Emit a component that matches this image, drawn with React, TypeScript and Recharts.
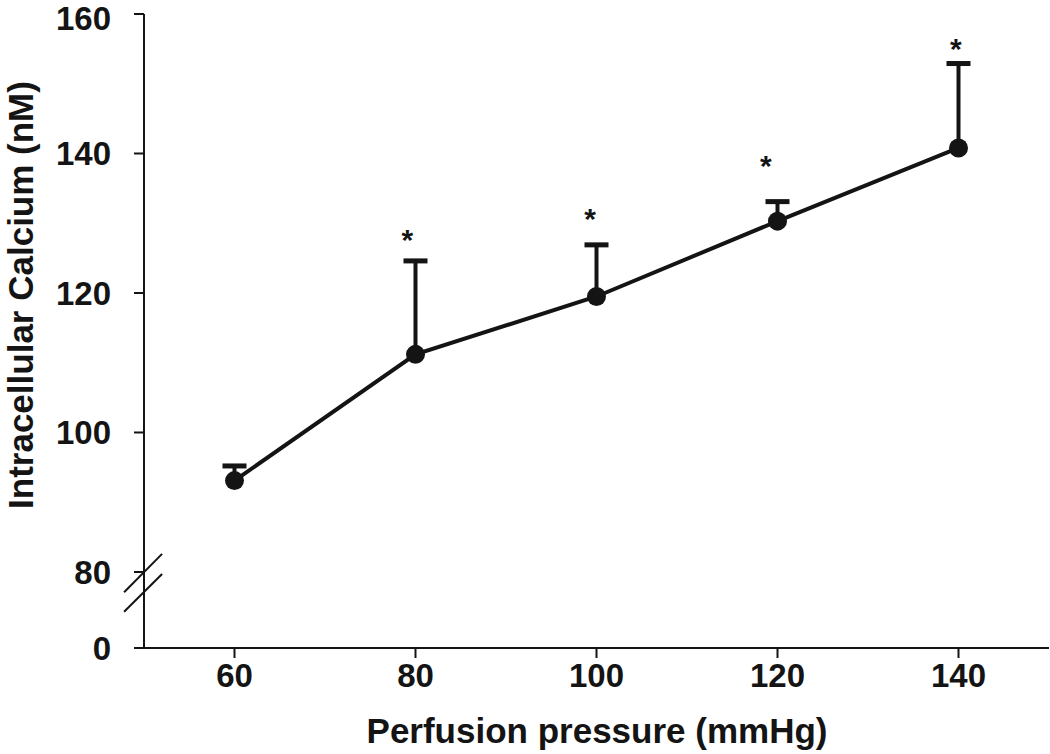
import {
  ComposedChart,
  Line,
  Scatter,
  ErrorBar,
  XAxis,
  YAxis,
  ReferenceLine,
} from "recharts";

// perfusion pressure (mmHg) and intracellular calcium (nM), mean + SEM
const pressures = [60, 80, 100, 120, 140];
const calciumMean = [93.1, 111.2, 119.5, 130.3, 140.8];
const calciumSem = [2.1, 13.4, 7.4, 2.8, 12.1];

// significance stars (hand placed in the original figure)
const starPressure = [79.1, 99.3, 118.7, 139.7];
const starLevel = [128.5, 131.4, 139.1, 155.9];

const xTicks = [60, 80, 100, 120, 140];
const yTicks = [80, 100, 120, 140, 160];
// the "0" tick sits below the axis break
const breakBottom = 69.1;

const INK = "#141414";
const FONT = "'Liberation Sans', Arial, Helvetica, sans-serif";

const data = pressures.map((x, i) => ({
  x,
  mean: calciumMean[i],
  err: [0, calciumSem[i]],
  top: calciumMean[i] + calciumSem[i],
}));

const starData = starPressure.map((x, i) => ({ x, level: starLevel[i] }));

const CapShape = (props: any) => {
  const { cx, cy } = props;
  if (cx == null || cy == null) return null;
  return <rect x={cx - 12} y={cy - 2.5} width={24} height={5} fill={INK} />;
};

const StarShape = (props: any) => {
  const { cx, cy } = props;
  if (cx == null || cy == null) return null;
  return (
    <text
      x={cx}
      y={cy + 16}
      textAnchor="middle"
      fontSize={30}
      fontWeight="bold"
      fontFamily={FONT}
      fill={INK}
    >
      *
    </text>
  );
};

export default function App() {
  return (
    <div style={{ position: "absolute", left: 0, top: 0, background: "#fff" }}>
      <ComposedChart
        width={1050}
        height={754}
        data={data}
        margin={{ top: 14, right: 1, bottom: 0, left: 0 }}
      >
        <XAxis
          dataKey="x"
          type="number"
          domain={[50, 150]}
          ticks={xTicks}
          allowDataOverflow
          height={106}
          tickSize={10}
          tickMargin={6}
          axisLine={{ stroke: INK, strokeWidth: 2 }}
          tickLine={{ stroke: INK, strokeWidth: 2 }}
          tick={{ fill: INK, fontSize: 33, fontWeight: "bold", fontFamily: FONT }}
          label={{
            content: () => (
              <text
                x={597}
                y={743}
                textAnchor="middle"
                fontSize={35}
                fontWeight="bold"
                fontFamily={FONT}
                fill={INK}
              >
                Perfusion pressure (mmHg)
              </text>
            ),
          }}
        />
        <YAxis
          type="number"
          domain={[breakBottom, 160]}
          ticks={[breakBottom, ...yTicks]}
          allowDataOverflow
          width={144}
          tickSize={10}
          tickMargin={23}
          tickFormatter={(v: number) => (v < 80 ? "0" : String(v))}
          axisLine={{ stroke: INK, strokeWidth: 2 }}
          tickLine={{ stroke: INK, strokeWidth: 2 }}
          tick={{ fill: INK, fontSize: 33, fontWeight: "bold", fontFamily: FONT }}
          label={{
            content: () => (
              <text
                x={33}
                y={295}
                transform="rotate(-90 33 295)"
                textAnchor="middle"
                fontSize={35}
                fontWeight="bold"
                fontFamily={FONT}
                fill={INK}
              >
                Intracellular Calcium (nM)
              </text>
            ),
          }}
        />
        {/* axis break marks */}
        <ReferenceLine
          segment={[
            { x: 47.8, y: 77.1 },
            { x: 52, y: 82.6 },
          ]}
          stroke={INK}
          strokeWidth={2}
          ifOverflow="visible"
        />
        <ReferenceLine
          segment={[
            { x: 47.8, y: 74.3 },
            { x: 52, y: 79.7 },
          ]}
          stroke={INK}
          strokeWidth={2}
          ifOverflow="visible"
        />
        <Line
          dataKey="mean"
          stroke={INK}
          strokeWidth={4}
          dot={{ r: 9.5, fill: INK, stroke: INK, strokeWidth: 0 }}
          activeDot={false}
          isAnimationActive={false}
        >
          <ErrorBar dataKey="err" width={0} stroke={INK} strokeWidth={4} direction="y" />
        </Line>
        <Scatter dataKey="top" shape={CapShape} isAnimationActive={false} />
        <Scatter
          data={starData}
          dataKey="level"
          shape={StarShape}
          isAnimationActive={false}
        />
      </ComposedChart>
    </div>
  );
}
